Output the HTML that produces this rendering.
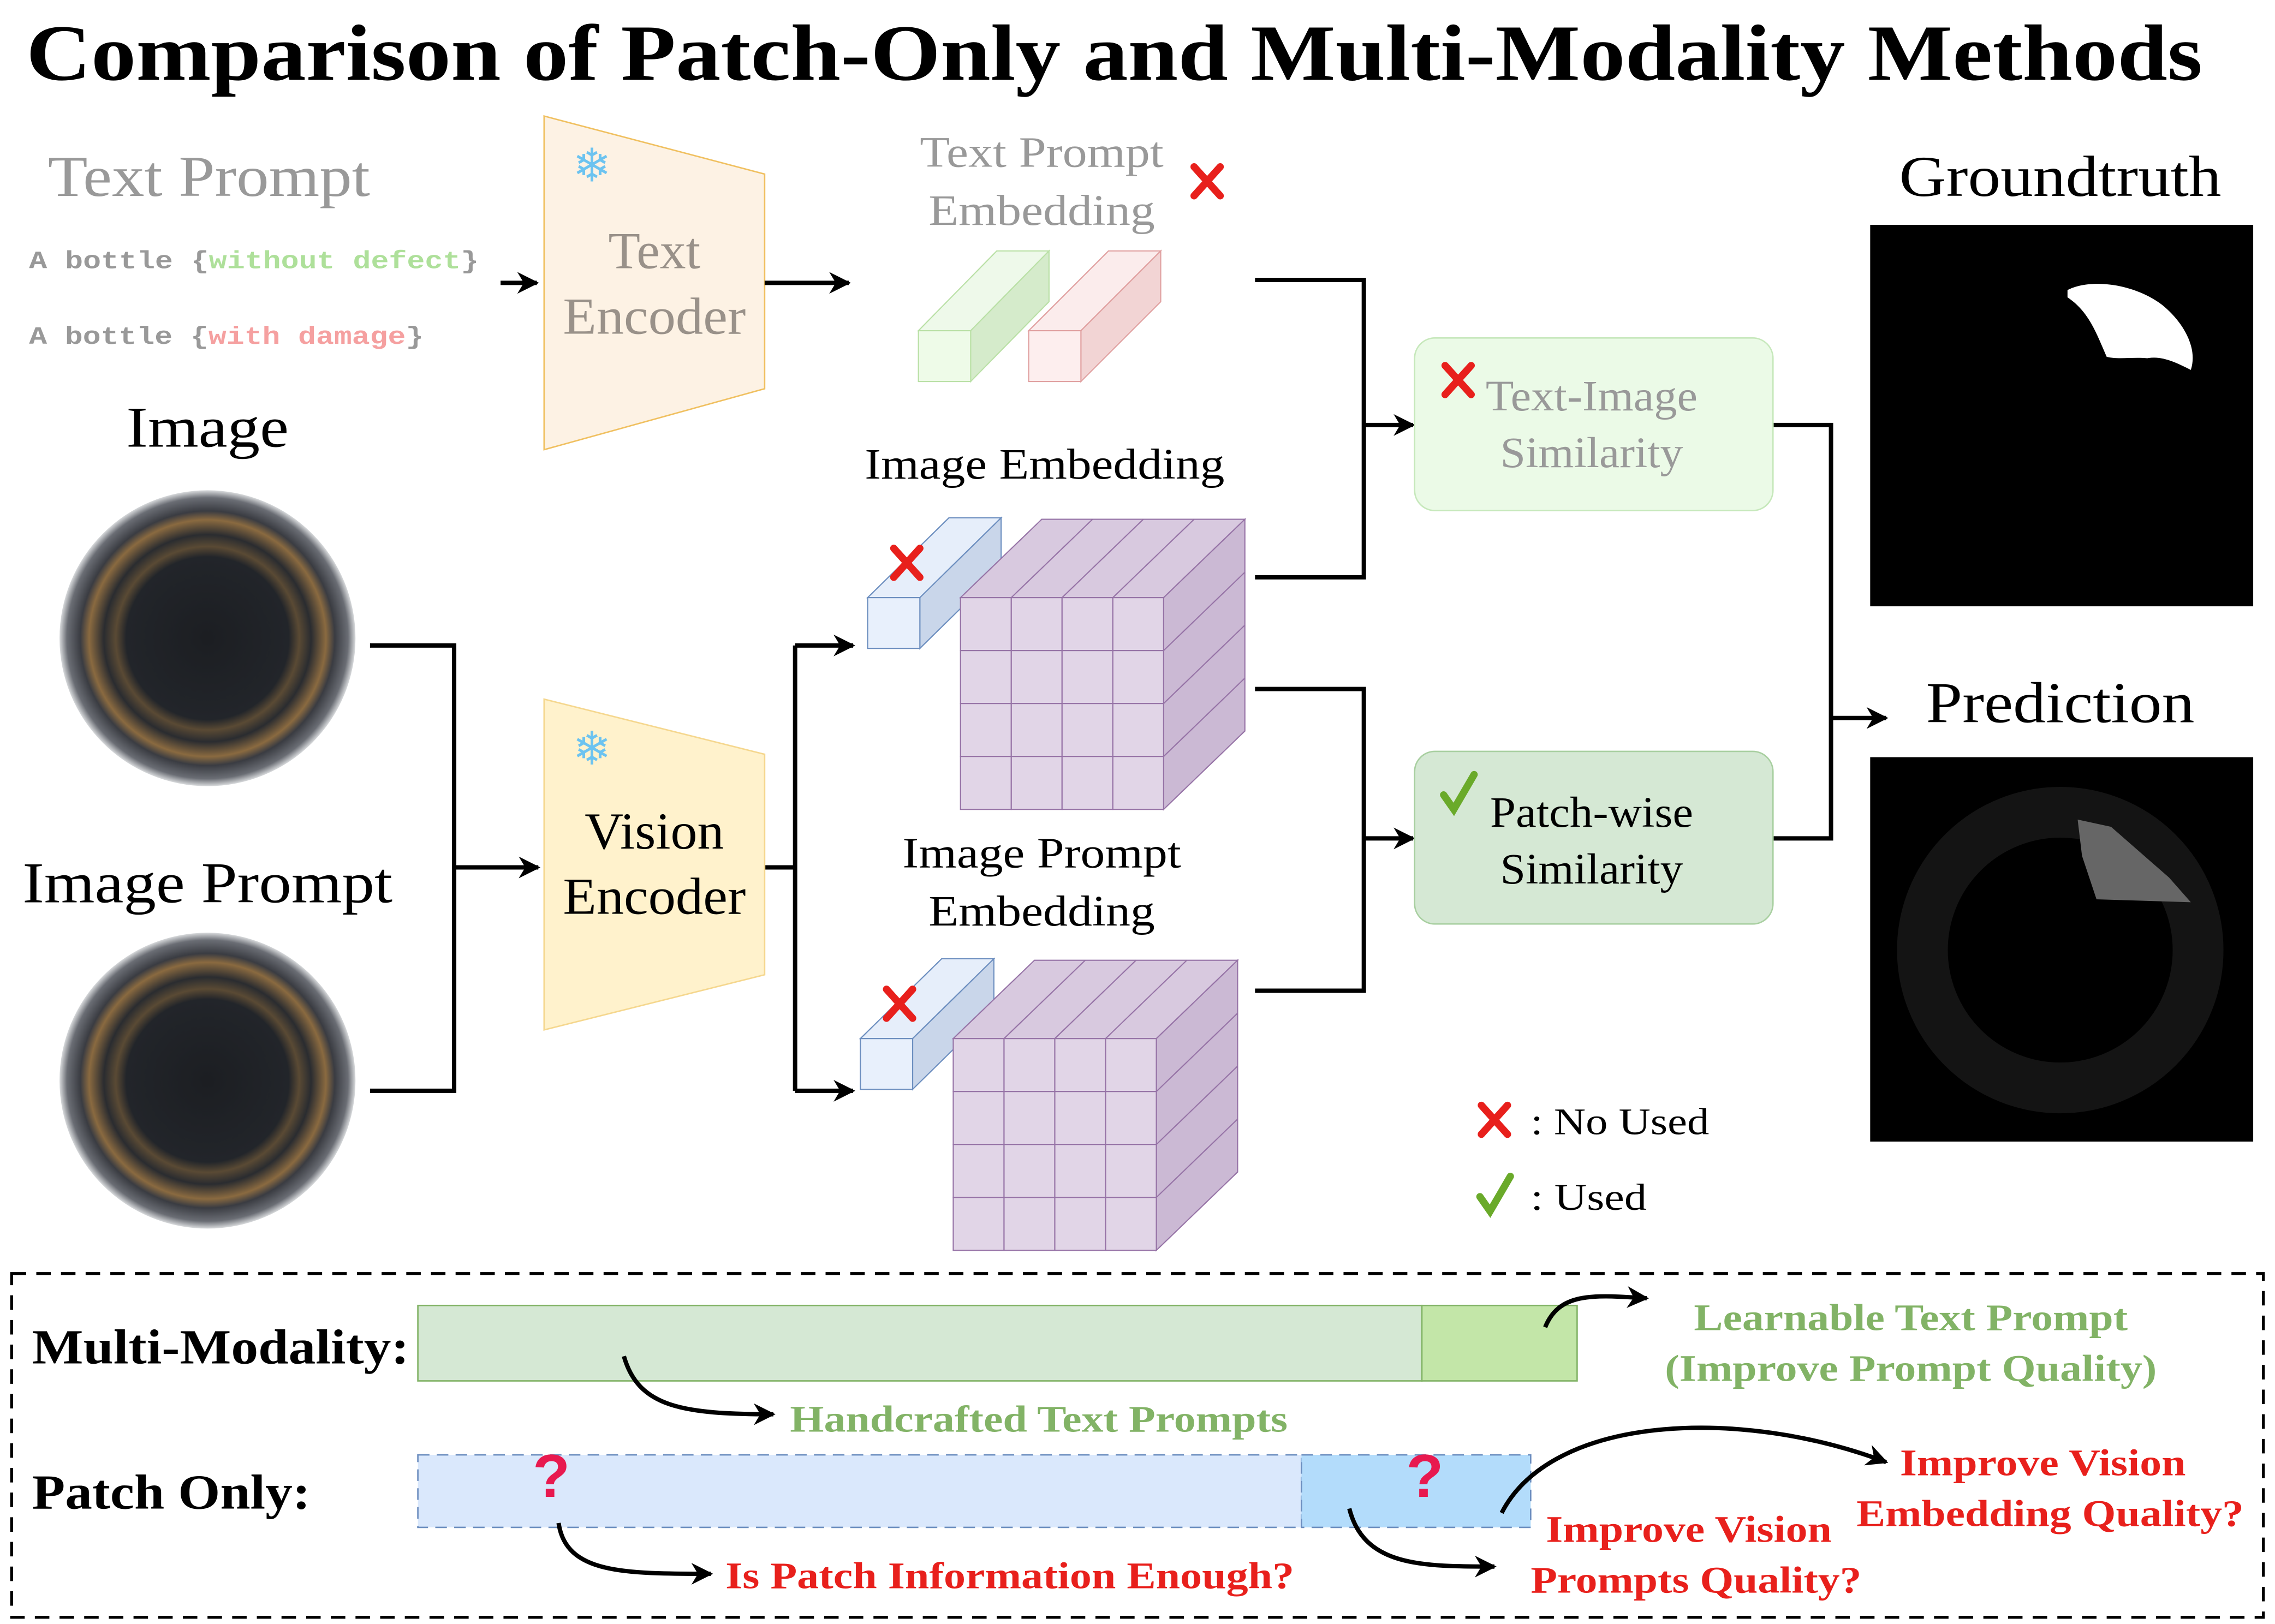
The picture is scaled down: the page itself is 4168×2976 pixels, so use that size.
<!DOCTYPE html>
<html><head><meta charset="utf-8"><style>html,body{margin:0;padding:0;background:#fff}svg{display:block}</style></head>
<body>
<svg width="4168" height="2976" viewBox="0 0 1568 1119.6" xmlns="http://www.w3.org/2000/svg" font-family="Liberation Serif, serif">
<defs>
<marker id="ar" viewBox="0 0 10 10" refX="9" refY="5" markerWidth="5" markerHeight="5" orient="auto"><path d="M0,0 L10,5 L0,10 L3,5 z" fill="#000"/></marker>
<radialGradient id="bot" cx="0.5" cy="0.5" r="0.5">
<stop offset="0" stop-color="#1c1e22"/><stop offset="0.55" stop-color="#22252a"/><stop offset="0.62" stop-color="#5a4a34"/><stop offset="0.7" stop-color="#2a2c30"/><stop offset="0.8" stop-color="#8a6a40"/><stop offset="0.86" stop-color="#3a3c42"/><stop offset="0.95" stop-color="#6a6d74"/><stop offset="1" stop-color="#d8dadc"/></radialGradient>
<g id="xm"><path d="M-9,-10 L9,10 M9,-10 L-9,10" stroke="#e8201c" stroke-width="5" stroke-linecap="round"/></g>
<g id="ck"><path d="M-10,0 L-3,10 L11,-14" stroke="#6aaa2a" stroke-width="5" fill="none" stroke-linecap="round"/></g>
<g id="cell"><rect width="35" height="36.5" fill="#e1d5e7" stroke="#9673a6" stroke-width="0.8"/></g>
</defs>
<text x="18" y="55" font-size="55" font-weight="bold" textLength="1500" lengthAdjust="spacingAndGlyphs">Comparison of Patch-Only and Multi-Modality Methods</text>

<text x="33" y="135" font-size="40" fill="#999" textLength="222" lengthAdjust="spacingAndGlyphs">Text Prompt</text>
<g font-family="Liberation Mono, monospace" font-weight="bold" font-size="17" fill="#999">
<text x="20" y="185" textLength="310" lengthAdjust="spacingAndGlyphs">A bottle {<tspan fill="#aee09a">without defect</tspan>}</text>
<text x="20" y="237" textLength="272" lengthAdjust="spacingAndGlyphs">A bottle {<tspan fill="#f5a0a0">with damage</tspan>}</text></g>
<line x1="345" y1="195" x2="370" y2="195" stroke="#000" stroke-width="3" marker-end="url(#ar)"/>
<polygon points="375,80 527,120 527,268 375,310" fill="#fdf2e4" stroke="#f0c060" stroke-width="1"/>
<text x="451" y="185" font-size="36" fill="#999189" text-anchor="middle">Text</text>
<text x="451" y="230" font-size="36" fill="#999189" text-anchor="middle" textLength="126" lengthAdjust="spacingAndGlyphs">Encoder</text>
<text x="408" y="125" font-size="32" fill="#6cc3f0" text-anchor="middle">❄</text>
<line x1="527" y1="195" x2="585" y2="195" stroke="#000" stroke-width="3" marker-end="url(#ar)"/>
<text x="718" y="115" font-size="30" fill="#999" text-anchor="middle" textLength="168" lengthAdjust="spacingAndGlyphs">Text Prompt</text>
<text x="718" y="155" font-size="30" fill="#999" text-anchor="middle" textLength="156" lengthAdjust="spacingAndGlyphs">Embedding</text>
<use href="#xm" x="832" y="125"/>
<g stroke-width="0.8">
<polygon points="633,228 687,173 723,173 669,228" fill="#eef9ea" stroke="#b9e0a5"/>
<polygon points="669,228 723,173 723,208 669,263" fill="#d5ebcb" stroke="#b9e0a5"/>
<rect x="633" y="228" width="36" height="35" fill="#eefbe8" stroke="#b9e0a5"/>
<polygon points="709,228 764,173 800,173 745,228" fill="#fbecec" stroke="#e0a0a0"/>
<polygon points="745,228 800,173 800,208 745,263" fill="#f2d4d4" stroke="#e0a0a0"/>
<rect x="709" y="228" width="36" height="35" fill="#fdeeee" stroke="#e0a0a0"/>
</g>
<g fill="none" stroke="#000" stroke-width="3">
<polyline points="865,193 940,193 940,398 865,398"/>
<polyline points="865,475 940,475 940,683 865,683"/>
<polyline points="1222,293 1262,293 1262,578 1222,578"/>
<polyline points="255,445 313,445 313,752 255,752"/>
<polyline points="527,598 548,598"/>
<polyline points="548,445 548,752"/>
</g>
<g stroke="#000" stroke-width="3" marker-end="url(#ar)">
<line x1="940" y1="293" x2="974" y2="293"/>
<line x1="940" y1="578" x2="974" y2="578"/>
<line x1="1262" y1="495" x2="1300" y2="495"/>
<line x1="313" y1="598" x2="371" y2="598"/>
<line x1="548" y1="445" x2="588" y2="445"/>
<line x1="548" y1="752" x2="588" y2="752"/>
</g>
<rect x="975" y="233" width="247" height="119" rx="14" fill="#ebfae7" stroke="#c6e8bb"/>
<text x="1097" y="283" font-size="30" fill="#999" text-anchor="middle" textLength="146" lengthAdjust="spacingAndGlyphs">Text-Image</text>
<text x="1097" y="322" font-size="30" fill="#999" text-anchor="middle" textLength="126" lengthAdjust="spacingAndGlyphs">Similarity</text>
<use href="#xm" x="1005" y="262"/>
<rect x="975" y="518" width="247" height="119" rx="14" fill="#d5e8d4" stroke="#a8cfa0"/>
<text x="1097" y="570" font-size="30" text-anchor="middle" textLength="140" lengthAdjust="spacingAndGlyphs">Patch-wise</text>
<text x="1097" y="609" font-size="30" text-anchor="middle" textLength="126" lengthAdjust="spacingAndGlyphs">Similarity</text>
<use href="#ck" x="1005" y="548"/>

<text x="1420" y="135" font-size="40" text-anchor="middle" textLength="222" lengthAdjust="spacingAndGlyphs">Groundtruth</text>
<rect x="1289" y="155" width="264" height="263" fill="#000"/>
<path d="M1425,200 C1440,192 1470,195 1490,210 C1505,222 1515,240 1510,255 C1500,250 1490,245 1480,247 C1470,246 1460,248 1452,246 C1445,230 1440,215 1425,205 z" fill="#fff"/>
<text x="1420" y="498" font-size="40" text-anchor="middle" textLength="185" lengthAdjust="spacingAndGlyphs">Prediction</text>
<rect x="1289" y="522" width="264" height="265" fill="#000"/>
<circle cx="1420" cy="655" r="95" fill="none" stroke="#141414" stroke-width="35"/>
<path d="M1432,565 L1455,570 L1495,605 L1510,622 L1445,620 L1435,590 z" fill="#666"/>

<text x="143" y="308" font-size="40" text-anchor="middle" textLength="112" lengthAdjust="spacingAndGlyphs">Image</text>
<circle cx="143" cy="440" r="102" fill="url(#bot)"/>
<text x="143" y="622" font-size="40" text-anchor="middle" textLength="255" lengthAdjust="spacingAndGlyphs">Image Prompt</text>
<circle cx="143" cy="745" r="102" fill="url(#bot)"/>

<polygon points="375,482 527,520 527,672 375,710" fill="#fff2cc" stroke="#f5d78e"/>
<text x="451" y="585" font-size="36" text-anchor="middle" textLength="96" lengthAdjust="spacingAndGlyphs">Vision</text>
<text x="451" y="630" font-size="36" text-anchor="middle" textLength="126" lengthAdjust="spacingAndGlyphs">Encoder</text>
<text x="408" y="527" font-size="32" fill="#6cc3f0" text-anchor="middle">❄</text>

<text x="720" y="330" font-size="30" text-anchor="middle" textLength="248" lengthAdjust="spacingAndGlyphs">Image Embedding</text>
<text x="718" y="598" font-size="30" text-anchor="middle" textLength="192" lengthAdjust="spacingAndGlyphs">Image Prompt</text>
<text x="718" y="638" font-size="30" text-anchor="middle" textLength="156" lengthAdjust="spacingAndGlyphs">Embedding</text>

<g id="emb1" stroke-width="0.8">
<polygon points="598,412 654,357 690,357 634,412" fill="#e6eefa" stroke="#6c8ebf"/>
<polygon points="634,412 690,357 690,392 634,447" fill="#c9d6ea" stroke="#6c8ebf"/>
<rect x="598" y="412" width="36" height="35" fill="#e8f0fc" stroke="#6c8ebf"/>
<polygon points="662,412 718,358 858,358 802,412" fill="#d8c9df" stroke="#9673a6"/>
<polygon points="802,412 858,358 858,504 802,558" fill="#cbb9d4" stroke="#9673a6"/>
<g stroke="#9673a6" fill="none"><line x1="697" y1="412" x2="753" y2="358"/><line x1="732" y1="412" x2="788" y2="358"/><line x1="767" y1="412" x2="823" y2="358"/>
<line x1="802" y1="448.5" x2="858" y2="394.5"/><line x1="802" y1="485" x2="858" y2="431"/><line x1="802" y1="521.5" x2="858" y2="467.5"/></g>
<g transform="translate(662,412)">
<use href="#cell" x="0" y="0"/><use href="#cell" x="35" y="0"/><use href="#cell" x="70" y="0"/><use href="#cell" x="105" y="0"/>
<use href="#cell" x="0" y="36.5"/><use href="#cell" x="35" y="36.5"/><use href="#cell" x="70" y="36.5"/><use href="#cell" x="105" y="36.5"/>
<use href="#cell" x="0" y="73"/><use href="#cell" x="35" y="73"/><use href="#cell" x="70" y="73"/><use href="#cell" x="105" y="73"/>
<use href="#cell" x="0" y="109.5"/><use href="#cell" x="35" y="109.5"/><use href="#cell" x="70" y="109.5"/><use href="#cell" x="105" y="109.5"/>
</g>
<use href="#xm" x="625" y="388"/>
</g>
<use href="#emb1" x="-5" y="304"/>

<use href="#xm" x="1030" y="772"/>
<text x="1055" y="782" font-size="26" textLength="123" lengthAdjust="spacingAndGlyphs">: No Used</text>
<use href="#ck" x="1030" y="825"/>
<text x="1055" y="834" font-size="26" textLength="80" lengthAdjust="spacingAndGlyphs">: Used</text>

<rect x="8" y="878" width="1552" height="237" fill="none" stroke="#000" stroke-width="2" stroke-dasharray="10,7"/>
<text x="22" y="940" font-size="34" font-weight="bold" textLength="260" lengthAdjust="spacingAndGlyphs">Multi-Modality:</text>
<rect x="288" y="900" width="692" height="52" fill="#d5e8d4" stroke="#82b366"/>
<rect x="980" y="900" width="107" height="52" fill="#c3e6a8" stroke="#82b366"/>
<text x="22" y="1040" font-size="34" font-weight="bold" textLength="192" lengthAdjust="spacingAndGlyphs">Patch Only:</text>
<rect x="288" y="1003" width="609" height="50" fill="#dae8fc" stroke="#6c8ebf" stroke-dasharray="8,5"/>
<rect x="897" y="1003" width="158" height="50" fill="#b3dcfb" stroke="#6c8ebf" stroke-dasharray="8,5"/>
<g fill="none" stroke="#000" stroke-width="3" marker-end="url(#ar)">
<path d="M1065,915 C1075,890 1100,893 1135,895"/>
<path d="M430,935 C440,970 470,975 533,975"/>
<path d="M385,1050 C390,1085 430,1085 490,1085"/>
<path d="M930,1040 C940,1080 980,1080 1030,1080"/>
<path d="M1035,1043 C1070,975 1200,970 1300,1008"/>
</g>
<g font-weight="bold" font-size="26" text-anchor="middle">
<text x="1317" y="917" fill="#82b366" textLength="299" lengthAdjust="spacingAndGlyphs">Learnable Text Prompt</text>
<text x="1317" y="952" fill="#82b366" textLength="339" lengthAdjust="spacingAndGlyphs">(Improve Prompt Quality)</text>
<text x="716" y="987" fill="#82b366" textLength="343" lengthAdjust="spacingAndGlyphs">Handcrafted Text Prompts</text>
<text x="696" y="1095" fill="#e8201c" textLength="392" lengthAdjust="spacingAndGlyphs">Is Patch Information Enough?</text>
<text x="1164" y="1063" fill="#e8201c" textLength="197" lengthAdjust="spacingAndGlyphs">Improve Vision</text>
<text x="1169" y="1098" fill="#e8201c" textLength="228" lengthAdjust="spacingAndGlyphs">Prompts Quality?</text>
<text x="1408" y="1017" fill="#e8201c" textLength="197" lengthAdjust="spacingAndGlyphs">Improve Vision</text>
<text x="1413" y="1052" fill="#e8201c" textLength="267" lengthAdjust="spacingAndGlyphs">Embedding Quality?</text>
<text x="380" y="1032" font-size="42" fill="#e8194f" font-family="Liberation Sans, sans-serif">?</text>
<text x="982" y="1032" font-size="42" fill="#e8194f" font-family="Liberation Sans, sans-serif">?</text>
</g>
</svg>
</body></html>
